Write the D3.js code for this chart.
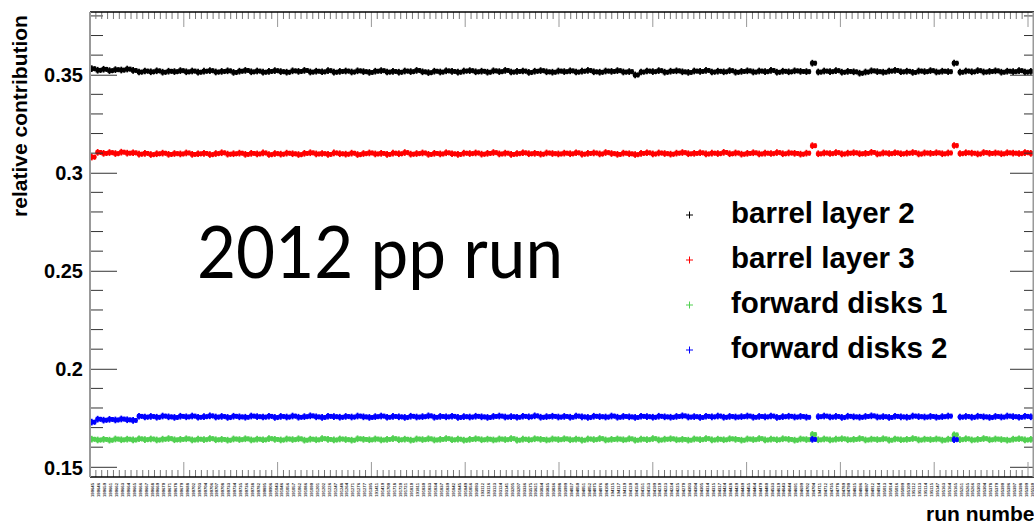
<!DOCTYPE html>
<html>
<head>
<meta charset="utf-8">
<script src="https://cdn.jsdelivr.net/npm/d3@7/dist/d3.min.js"></script>
<style>
  html, body { margin: 0; padding: 0; background: #fff; }
  svg { display: block; }
  .bold { font-family: "Liberation Sans", Arial, Helvetica, sans-serif; font-weight: bold; }
</style>
</head>
<body>
<svg id="chart" width="1034" height="523"></svg>
<script>
// Run numbers (one bin per run)
const runs = [
  190645,190646,190659,190661,190662,190663,190664,190665,190666,190667,190668,190669,190670,190671,190678,190679,
  190688,190702,190703,190704,190706,190707,190708,190733,190734,190735,190736,190738,190782,190895,190906,191043,
  191046,191056,191057,191062,191086,191090,191201,191202,191226,191247,191248,191264,191271,191276,191277,191395,
  191411,191419,191700,191718,191720,191721,191810,191811,191830,191833,191834,191837,191839,191842,191845,191849,
  191856,193093,193112,193116,193123,193124,193141,193205,193207,193336,193575,193621,193834,193835,193836,193998,
  193999,194027,194050,194051,194052,194075,194076,194108,194115,194117,194119,194120,194150,194151,194153,194199,
  194210,194223,194224,194225,194270,194303,194304,194305,194314,194315,194317,194424,194428,194429,194439,194455,
  194464,194479,194480,194533,194619,194643,194644,194691,194699,194702,194704,194711,194712,194735,194778,194789,
  194790,194825,194896,194897,194912,194914,195013,195014,195016,195099,195109,195112,195113,195114,195115,195147,
  195163,195164,195165,195251,195265,195266,195303,195304,195378,195379,195390,195396,195397,195398,195399,195530
];

// Relative contribution per run
const barrelLayer2 = [
  .3531,.3523,.3528,.3521,.3526,.3524,.3529,.3522,.3514,.3519,.3515,.3520,.3513,.3518,.3516,.3521,
  .3515,.3519,.3513,.3518,.3521,.3514,.3517,.3520,.3512,.3518,.3522,.3515,.3519,.3513,.3517,.3521,
  .3516,.3513,.3520,.3517,.3522,.3514,.3518,.3515,.3521,.3513,.3517,.3519,.3514,.3520,.3516,.3512,
  .3518,.3521,.3514,.3517,.3513,.3519,.3516,.3522,.3515,.3511,.3518,.3514,.3520,.3517,.3513,.3519,
  .3521,.3515,.3518,.3513,.3520,.3516,.3522,.3514,.3517,.3519,.3512,.3518,.3521,.3515,.3513,.3519,
  .3516,.3520,.3514,.3518,.3522,.3515,.3513,.3519,.3517,.3521,.3514,.3516,.3499,.3514,.3519,.3516,
  .3521,.3513,.3518,.3520,.3515,.3512,.3519,.3517,.3522,.3514,.3518,.3515,.3521,.3513,.3517,.3520,
  .3514,.3519,.3516,.3522,.3513,.3518,.3515,.3520,.3517,.3516,.3559,.3514,.3519,.3516,.3521,.3513,
  .3517,.3515,.3508,.3514,.3520,.3516,.3513,.3519,.3522,.3515,.3518,.3512,.3519,.3516,.3521,.3514,
  .3518,.3516,.3559,.3513,.3519,.3515,.3521,.3514,.3517,.3520,.3513,.3518,.3516,.3521,.3514,.3517
];
const barrelLayer3 = [
  .3080,.3104,.3099,.3103,.3098,.3105,.3100,.3102,.3095,.3099,.3093,.3097,.3100,.3094,.3098,.3096,
  .3101,.3094,.3097,.3099,.3093,.3098,.3102,.3095,.3097,.3100,.3094,.3099,.3096,.3101,.3093,.3098,
  .3095,.3100,.3097,.3093,.3099,.3102,.3096,.3098,.3094,.3101,.3097,.3095,.3100,.3093,.3098,.3101,
  .3096,.3099,.3094,.3100,.3097,.3103,.3095,.3098,.3101,.3094,.3099,.3096,.3102,.3097,.3094,.3100,
  .3098,.3101,.3095,.3099,.3103,.3096,.3100,.3094,.3098,.3102,.3097,.3099,.3095,.3101,.3098,.3096,
  .3100,.3097,.3102,.3095,.3099,.3101,.3096,.3103,.3098,.3094,.3100,.3097,.3093,.3099,.3102,.3096,
  .3101,.3098,.3095,.3100,.3103,.3097,.3099,.3102,.3096,.3100,.3098,.3104,.3097,.3101,.3095,.3099,
  .3102,.3096,.3100,.3098,.3103,.3097,.3101,.3099,.3095,.3100,.3138,.3097,.3101,.3098,.3103,.3096,
  .3100,.3102,.3097,.3099,.3104,.3096,.3101,.3098,.3102,.3097,.3100,.3103,.3096,.3101,.3099,.3102,
  .3097,.3101,.3139,.3098,.3102,.3100,.3096,.3103,.3099,.3101,.3097,.3102,.3100,.3098,.3103,.3099
];
const forwardDisks1 = [
  .1641,.1637,.1640,.1636,.1642,.1638,.1641,.1637,.1643,.1639,.1642,.1637,.1641,.1644,.1638,.1640,
  .1643,.1637,.1641,.1639,.1644,.1638,.1640,.1636,.1642,.1639,.1643,.1637,.1641,.1638,.1644,.1640,
  .1637,.1642,.1639,.1643,.1636,.1641,.1638,.1644,.1640,.1637,.1642,.1639,.1636,.1643,.1640,.1638,
  .1642,.1637,.1640,.1644,.1638,.1641,.1636,.1642,.1639,.1643,.1637,.1640,.1644,.1638,.1641,.1636,
  .1640,.1643,.1638,.1641,.1637,.1642,.1639,.1644,.1636,.1641,.1638,.1643,.1640,.1637,.1642,.1639,
  .1643,.1638,.1641,.1636,.1642,.1639,.1644,.1637,.1640,.1642,.1638,.1643,.1636,.1641,.1639,.1644,
  .1637,.1641,.1643,.1638,.1640,.1636,.1642,.1639,.1644,.1637,.1641,.1638,.1643,.1640,.1636,.1642,
  .1639,.1644,.1637,.1641,.1638,.1643,.1640,.1636,.1642,.1639,.1665,.1638,.1642,.1637,.1641,.1643,
  .1638,.1640,.1644,.1637,.1641,.1639,.1643,.1636,.1642,.1638,.1640,.1644,.1637,.1641,.1639,.1642,
  .1636,.1641,.1663,.1639,.1643,.1637,.1640,.1644,.1638,.1642,.1639,.1636,.1641,.1643,.1637,.1640
];
const forwardDisks2 = [
  .1728,.1743,.1738,.1742,.1739,.1744,.1740,.1737,.1758,.1754,.1757,.1753,.1759,.1755,.1752,.1758,
  .1755,.1759,.1753,.1756,.1760,.1754,.1757,.1752,.1758,.1755,.1753,.1759,.1756,.1754,.1758,.1752,
  .1757,.1754,.1759,.1753,.1756,.1760,.1755,.1752,.1758,.1756,.1753,.1757,.1754,.1759,.1755,.1752,
  .1756,.1759,.1753,.1757,.1755,.1752,.1758,.1754,.1756,.1760,.1753,.1757,.1755,.1758,.1752,.1756,
  .1754,.1758,.1755,.1752,.1757,.1759,.1754,.1756,.1753,.1758,.1755,.1760,.1753,.1756,.1758,.1754,
  .1757,.1753,.1759,.1755,.1752,.1758,.1756,.1754,.1759,.1753,.1757,.1755,.1752,.1758,.1756,.1753,
  .1758,.1755,.1753,.1757,.1760,.1754,.1756,.1752,.1758,.1755,.1759,.1753,.1757,.1754,.1756,.1759,
  .1753,.1757,.1755,.1759,.1752,.1756,.1758,.1754,.1757,.1753,.1640,.1756,.1759,.1754,.1757,.1752,
  .1758,.1755,.1753,.1757,.1760,.1754,.1756,.1752,.1758,.1755,.1753,.1759,.1756,.1754,.1757,.1753,
  .1756,.1759,.1639,.1754,.1757,.1753,.1758,.1755,.1752,.1757,.1754,.1759,.1756,.1753,.1758,.1755
];

const seriesNames = ["barrel layer 2", "barrel layer 3", "forward disks 1", "forward disks 2"];
const seriesValues = [barrelLayer2, barrelLayer3, forwardDisks1, forwardDisks2];
const seriesColors = ["#000000", "#ff0000", "#52d052", "#0000ff"];

const yTickValues = [0.15, 0.2, 0.25, 0.3, 0.35];
const yTickLabels = ["0.15", "0.2", "0.25", "0.3", "0.35"];
const yMinorValues = d3.range(15, 39).map(d => d / 100);

const yTitle = "relative contribution";
const xTitle = "run number";
const annotation = "2012 pp run";

// ---- layout ----
const svg = d3.select("#chart");
const padL = 90, padR = 1034, padT = 12, padB = 477;

const y = d3.scaleLinear().domain([0.1448, 0.382]).range([padB, padT]);
const x = d3.scaleBand().domain(runs).range([padL, 1035]).padding(0);
const bw = x.bandwidth();
const err = 0.0017;

// ---- data points (drawn first, frame on top) ----
const plot = svg.append("g");
seriesValues.forEach((vals, si) => {
  const g = plot.append("g").attr("stroke", seriesColors[si]).attr("fill", "none");
  const pts = g.selectAll("g.pt").data(vals.map((v, i) => ({ run: runs[i], v })))
    .join("g").attr("class", "pt")
    .attr("transform", d => `translate(${x(d.run) + bw / 2},0)`);
  // horizontal bin-width bar
  pts.append("line")
    .attr("x1", -bw / 2 - 0.3).attr("x2", bw / 2 + 0.3)
    .attr("y1", d => y(d.v)).attr("y2", d => y(d.v))
    .attr("stroke-width", 4.6);
  // vertical error bars
  pts.append("line")
    .attr("x1", -1.2).attr("x2", -1.2)
    .attr("y1", d => y(d.v + err)).attr("y2", d => y(d.v - err))
    .attr("stroke-width", 1.8);
  pts.append("line")
    .attr("x1", 1.6).attr("x2", 1.6)
    .attr("y1", d => y(d.v + err * 0.7)).attr("y2", d => y(d.v - err * 0.8))
    .attr("stroke-width", 1.4);
  // plus marker arm
  pts.append("line")
    .attr("x1", -3.6).attr("x2", 3.6)
    .attr("y1", d => y(d.v)).attr("y2", d => y(d.v))
    .attr("stroke-width", 2);
});

// ---- y axes ----
const axisG = svg.append("g");
const yMinorOnly = yMinorValues.filter(v => !yTickValues.some(t => Math.abs(t - v) < 1e-9));
axisG.append("g").selectAll("line").data(yMinorOnly)
  .join("line")
  .attr("x1", padL).attr("x2", padL + 13)
  .attr("y1", d => y(d)).attr("y2", d => y(d))
  .attr("stroke", "#333").attr("stroke-width", 1);
axisG.append("g").selectAll("line").data(yMinorOnly)
  .join("line")
  .attr("x1", padR - 10).attr("x2", padR)
  .attr("y1", d => y(d)).attr("y2", d => y(d))
  .attr("stroke", "#333").attr("stroke-width", 1);

const yAxisL = d3.axisLeft(y).tickValues(yTickValues)
  .tickFormat((d, i) => yTickLabels[i]).tickSizeInner(-27).tickSizeOuter(0).tickPadding(7);
const gl = axisG.append("g").attr("transform", `translate(${padL},0)`).call(yAxisL);
gl.select(".domain").remove();
gl.selectAll(".tick line").attr("stroke", "#333").attr("stroke-width", 1);
gl.selectAll(".tick text").attr("class", "bold").attr("font-size", 20).attr("fill", "#000").attr("dy", "0.36em");

const yAxisR = d3.axisRight(y).tickValues(yTickValues).tickFormat("").tickSizeInner(-24).tickSizeOuter(0);
const gr = axisG.append("g").attr("transform", `translate(${padR},0)`).call(yAxisR);
gr.select(".domain").remove();
gr.selectAll(".tick line").attr("stroke", "#333").attr("stroke-width", 1);

// ---- x axis divisions (10 primary, 16 secondary each) ----
const xDiv = d3.scaleLinear().domain([0, 10]).range([padL, 1028]);
const minorDiv = d3.range(1, 172).map(k => k / 16).filter(v => xDiv(v) < padR - 1);
const majorDiv = d3.range(1, 11);
[[padB, -1], [padT, 1]].forEach(([yy, dir]) => {
  axisG.append("g").selectAll("line").data(minorDiv.filter(v => v % 1 !== 0))
    .join("line")
    .attr("x1", d => xDiv(d)).attr("x2", d => xDiv(d))
    .attr("y1", yy).attr("y2", yy + dir * 7)
    .attr("stroke", "#777").attr("stroke-width", 1);
  axisG.append("g").selectAll("line").data(majorDiv)
    .join("line")
    .attr("x1", d => xDiv(d)).attr("x2", d => xDiv(d))
    .attr("y1", yy).attr("y2", yy + dir * 15)
    .attr("stroke", "#999").attr("stroke-width", 1);
});

// frame
axisG.append("line").attr("x1", padL).attr("x2", padR).attr("y1", padT).attr("y2", padT)
  .attr("stroke", "#000").attr("stroke-width", 1.5);
axisG.append("line").attr("x1", padL).attr("x2", padR).attr("y1", padB).attr("y2", padB)
  .attr("stroke", "#000").attr("stroke-width", 1.5);
axisG.append("line").attr("x1", padL).attr("x2", padL).attr("y1", padT).attr("y2", padB)
  .attr("stroke", "#999").attr("stroke-width", 2);
axisG.append("line").attr("x1", padR - 0.5).attr("x2", padR - 0.5).attr("y1", padT).attr("y2", padB)
  .attr("stroke", "#999").attr("stroke-width", 2);

// run labels along the x axis (vertical, tiny)
svg.append("g").selectAll("text").data(runs)
  .join("text")
  .attr("transform", d => `translate(${x(d) + bw / 2 + 1.5},483) rotate(-90)`)
  .attr("text-anchor", "end")
  .attr("font-family", "'Liberation Sans', Arial, sans-serif")
  .attr("font-weight", "bold")
  .attr("font-size", 4.2)
  .attr("fill", "#333")
  .text(d => String(d));

// ---- titles ----
svg.append("text").attr("class", "bold")
  .attr("transform", "translate(26.5,116) rotate(-90)")
  .attr("text-anchor", "middle").attr("font-size", 21).attr("fill", "#000")
  .text(yTitle);

svg.append("text").attr("class", "bold")
  .attr("x", 926).attr("y", 521)
  .attr("font-size", 21).attr("fill", "#000")
  .text(xTitle);

svg.append("text")
  .attr("x", 197).attr("y", 278)
  .attr("font-family", "Lato, 'Open Sans', sans-serif")
  .attr("font-size", 72)
  .attr("textLength", 366).attr("lengthAdjust", "spacingAndGlyphs")
  .attr("fill", "#000")
  .text(annotation);

// ---- legend ----
const legendY = [223, 268, 313, 358];
const leg = svg.append("g");
seriesNames.forEach((name, i) => {
  const cy = legendY[i] - 8;
  leg.append("line").attr("x1", 686).attr("x2", 693).attr("y1", cy).attr("y2", cy)
    .attr("stroke", seriesColors[i]).attr("stroke-width", 1);
  leg.append("line").attr("x1", 689.5).attr("x2", 689.5).attr("y1", cy - 3.5).attr("y2", cy + 3.5)
    .attr("stroke", seriesColors[i]).attr("stroke-width", 1);
  leg.append("text").attr("class", "bold")
    .attr("x", 731).attr("y", legendY[i])
    .attr("font-size", 29.5).attr("fill", "#000")
    .text(name);
});
</script>
</body>
</html>
